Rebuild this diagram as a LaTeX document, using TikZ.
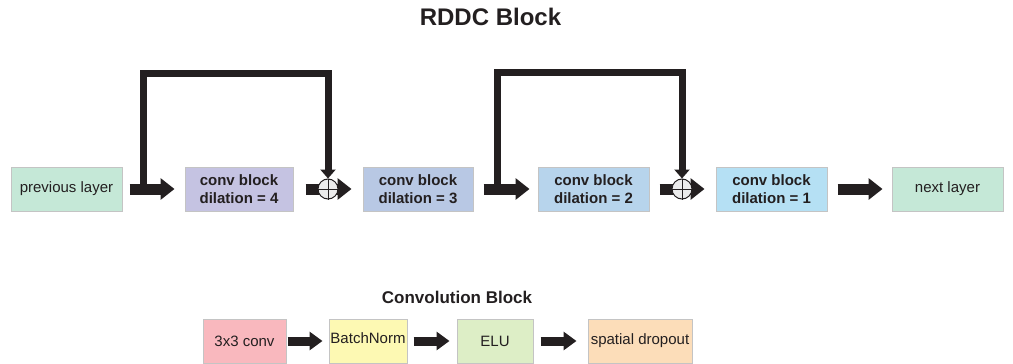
\documentclass[tikz,border=0pt]{standalone}
\usepackage{fontspec}
\setmainfont{Liberation Sans}
\usetikzlibrary{arrows.meta}
\definecolor{ink}{HTML}{231F20}
\definecolor{layerc}{HTML}{C5E8D7}
\definecolor{cfour}{HTML}{C5C3E2}
\definecolor{cthree}{HTML}{B8C8E4}
\definecolor{ctwo}{HTML}{B7D4EC}
\definecolor{cone}{HTML}{B5E0F4}
\definecolor{convc}{HTML}{F9B8BE}
\definecolor{bnc}{HTML}{FDF9B3}
\definecolor{eluc}{HTML}{DDEEC6}
\definecolor{dropc}{HTML}{FCDDB9}
\definecolor{boxline}{HTML}{C4C4C4}
\begin{document}
\begin{tikzpicture}[x=1pt,y=-1pt,
  every node/.style={text=ink},
  bx/.style={draw=boxline, line width=1pt, minimum height=44pt, inner sep=0pt,
     align=center, font=\fontsize{15}{15}\selectfont},
  bbx/.style={bx, font=\fontsize{15}{17.5}\selectfont\bfseries},
  blockarrow/.style={draw=ink, line width=11pt, -{Triangle[length=14pt,width=21pt]}},
  smallarrow/.style={draw=ink, line width=9pt, -{Triangle[length=13pt,width=18pt]}},
  skipline/.style={draw=ink, line width=7pt, line join=miter, -{Triangle[length=9pt,width=15pt]}},
  plusnode/.style={circle, draw=ink, line width=1pt, fill=black!8, minimum size=20pt, inner sep=0pt}
]
\useasboundingbox (0,0) rectangle (1013,364);
\node[font=\fontsize{24}{24}\selectfont\bfseries] (title) at (490.5,16.5) {RDDC Block};

\node[bx, fill=layerc, minimum width=111pt] (prev) at (66.5,189) {previous layer};
\node[bbx, fill=cfour, minimum width=108pt] (c4) at (239,189) {conv block\\dilation = 4};
\node[bbx, fill=cthree, minimum width=110pt] (c3) at (418,189) {conv block\\dilation = 3};
\node[bbx, fill=ctwo, minimum width=111pt] (c2) at (593.5,189) {conv block\\dilation = 2};
\node[bbx, fill=cone, minimum width=111pt] (c1) at (771.5,189) {conv block\\dilation = 1};
\node[bx, fill=layerc, minimum width=111pt] (next) at (947.5,189) {next layer};

% main arrows
\draw[blockarrow] ([xshift=7pt]prev.east) -- ([xshift=-10pt]c4.west);
\draw[blockarrow] ([xshift=12pt]c4.east) -- ([xshift=-11pt]c3.west);
\draw[blockarrow] ([xshift=10pt]c3.east) -- ([xshift=-8pt]c2.west);
\draw[blockarrow] ([xshift=10pt]c2.east) -- ([xshift=-11pt]c1.west);
\draw[blockarrow] ([xshift=10pt]c1.east) -- ([xshift=-9pt]next.west);

% adders
\node[plusnode] (p1) at (328,189) {};
\draw[ink, line width=0.8pt] (p1.north) -- (p1.south) (p1.west) -- (p1.east);
\node[plusnode] (p2) at (682,189) {};
\draw[ink, line width=0.8pt] (p2.north) -- (p2.south) (p2.west) -- (p2.east);

% skip connections
\coordinate (s1) at (143.5,189);
\coordinate (s2) at (497,189);
\draw[skipline] (s1) -- ++(0,-115.5) -| (p1.north);
\draw[skipline] (s2) -- ++(0,-117) -| (p2.north);

% convolution block legend
\node[font=\fontsize{17}{17}\selectfont\bfseries] (ctitle) at (457,297) {Convolution Block};
\node[bx, fill=convc, minimum width=83pt] (k1) at (244.5,341) {3x3 conv};
\node[bx, fill=bnc, minimum width=78pt, text depth=6pt] (k2) at (368,341) {BatchNorm};
\node[bx, fill=eluc, minimum width=76pt] (k3) at (495,341) {ELU};
\node[bx, fill=dropc, minimum width=104pt] (k4) at (640,341) {spatial dropout};
\draw[smallarrow] ([xshift=1pt]k1.east) -- ([xshift=-6pt]k2.west);
\draw[smallarrow] ([xshift=6pt]k2.east) -- ([xshift=-7pt]k3.west);
\draw[smallarrow] ([xshift=7pt]k3.east) -- ([xshift=-11pt]k4.west);
\end{tikzpicture}
\end{document}
